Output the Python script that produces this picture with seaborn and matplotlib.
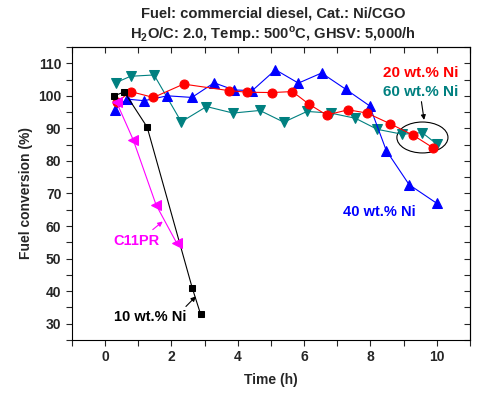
import matplotlib
matplotlib.use("Agg")
import matplotlib.pyplot as plt
import seaborn as sns
from matplotlib.patches import Ellipse
from matplotlib.ticker import MultipleLocator

sns.set_style("ticks")
plt.rcParams['font.family'] = ['Liberation Sans', 'DejaVu Sans']
plt.rcParams['font.weight'] = 'bold'
plt.rcParams['mathtext.fontset'] = 'custom'
plt.rcParams['mathtext.rm'] = 'Liberation Sans:bold'
plt.rcParams['mathtext.bf'] = 'Liberation Sans:bold'

# data
t_10 = [0.28, 0.58, 1.27, 2.63, 2.88]
y_10 = [100.0, 101.2, 90.4, 41.0, 33.0]

t_c11 = [0.35, 0.85, 1.54, 2.16]
y_c11 = [98.0, 86.5, 66.5, 54.8]

t_20 = [0.35, 0.77, 1.46, 2.37, 3.73, 4.29, 5.03, 5.65, 6.14, 6.68, 7.33, 7.90, 8.60, 9.29, 9.88]
y_20 = [98.0, 101.3, 99.5, 103.6, 101.6, 101.1, 101.0, 101.3, 97.5, 94.1, 95.7, 94.7, 91.4, 87.9, 84.1]

t_40 = [0.30, 0.65, 1.18, 1.88, 2.62, 3.29, 3.88, 4.44, 5.14, 5.83, 6.53, 7.26, 7.98, 8.48, 9.17, 10.0]
y_40 = [95.7, 99.0, 98.5, 100.0, 99.5, 104.0, 101.8, 101.6, 108.0, 103.9, 107.0, 102.0, 96.9, 83.2, 72.7, 67.0]

t_60 = [0.32, 0.77, 1.48, 2.30, 3.06, 3.86, 4.67, 5.39, 6.09, 6.80, 7.55, 8.21, 8.96, 9.56, 10.0]
y_60 = [104.0, 106.0, 106.4, 92.0, 96.7, 94.7, 95.5, 91.9, 95.2, 94.7, 93.1, 89.7, 88.2, 88.7, 85.2]

fig = plt.figure(figsize=(4.92, 4.07), dpi=100)
ax = fig.add_axes([0.146, 0.1646, 0.809, 0.72])

series = [
    (t_60, y_60, '#008080', 'v', 6.5),
    (t_40, y_40, '#0000ff', '^', 6.5),
    (t_20, y_20, '#ff0000', 'o', 6.5),
    (t_10, y_10, '#000000', 's', 5),
    (t_c11, y_c11, '#ff00ff', '<', 6.5),
]
for t, y, c, m, ms in series:
    sns.lineplot(x=t, y=y, ax=ax, color=c, marker=m, markersize=ms,
                 markeredgecolor=c, linewidth=0.8, sort=False, estimator=None)

ax.set_xlim(-1, 11)
ax.set_ylim(25, 115)
ax.xaxis.set_major_locator(MultipleLocator(2))
ax.xaxis.set_minor_locator(MultipleLocator(1))
ax.yaxis.set_minor_locator(MultipleLocator(5))
ax.set_yticks(range(30, 111, 10))
ax.tick_params(which='both', direction='out', length=4, width=0.8, labelsize=10)
ax.tick_params(which='both', top=False, right=False)
for s in ax.spines.values():
    s.set_linewidth(0.8)
    s.set_color('black')

# inward ticks on top and right
axt = ax.secondary_xaxis('top')
axt.xaxis.set_major_locator(MultipleLocator(1))
axt.tick_params(direction='in', length=4, width=0.8, labeltop=False)
axr = ax.secondary_yaxis('right')
axr.yaxis.set_major_locator(MultipleLocator(5))
axr.tick_params(direction='in', length=4, width=0.8, labelright=False)

ax.set_xlabel('Time (h)', fontsize=10, fontweight='bold', labelpad=6)
ax.set_ylabel('Fuel conversion (%)', fontsize=10, fontweight='bold', labelpad=4)

fig.text(0.555, 0.966, 'Fuel: commercial diesel, Cat.: Ni/CGO', ha='center', va='center',
         fontsize=10.6, fontweight='bold')
fig.text(0.555, 0.916, r'H$_\mathbf{2}$O/C: 2.0, Temp.: 500$^\mathbf{o}$C, GHSV: 5,000/h',
         ha='center', va='center', fontsize=10.6, fontweight='bold')

ax.text(9.52, 107.0, '20 wt.% Ni', color='#ff0000', fontsize=11, fontweight='bold', ha='center', va='center')
ax.text(9.52, 101.2, '60 wt.% Ni', color='#008080', fontsize=11, fontweight='bold', ha='center', va='center')
ax.add_patch(Ellipse((9.57, 87.2), 1.54, 9.5, fill=False, edgecolor='black', linewidth=0.8))
ax.annotate('', xy=(9.62, 92.6), xytext=(9.54, 98.2),
            arrowprops=dict(arrowstyle='-|>', color='black', lw=0.8, mutation_scale=7,
                            shrinkA=0, shrinkB=0))

ax.text(8.28, 64.4, '40 wt.% Ni', color='#0000ff', fontsize=10.5, fontweight='bold', ha='center', va='center')

ax.text(0.96, 55.4, 'C11PR', color='#ff00ff', fontsize=10.5, fontweight='bold', ha='center', va='center')
ax.annotate('', xy=(1.74, 61.4), xytext=(1.44, 58.9),
            arrowprops=dict(arrowstyle='-|>', color='#ff00ff', lw=0.8, mutation_scale=7,
                            shrinkA=0, shrinkB=0))

ax.text(1.35, 32.2, '10 wt.% Ni', color='black', fontsize=10.5, fontweight='bold', ha='center', va='center')
ax.annotate('', xy=(2.74, 38.4), xytext=(2.44, 35.3),
            arrowprops=dict(arrowstyle='-|>', color='black', lw=0.8, mutation_scale=7,
                            shrinkA=0, shrinkB=0))

fig.savefig('out.png', dpi=100)
